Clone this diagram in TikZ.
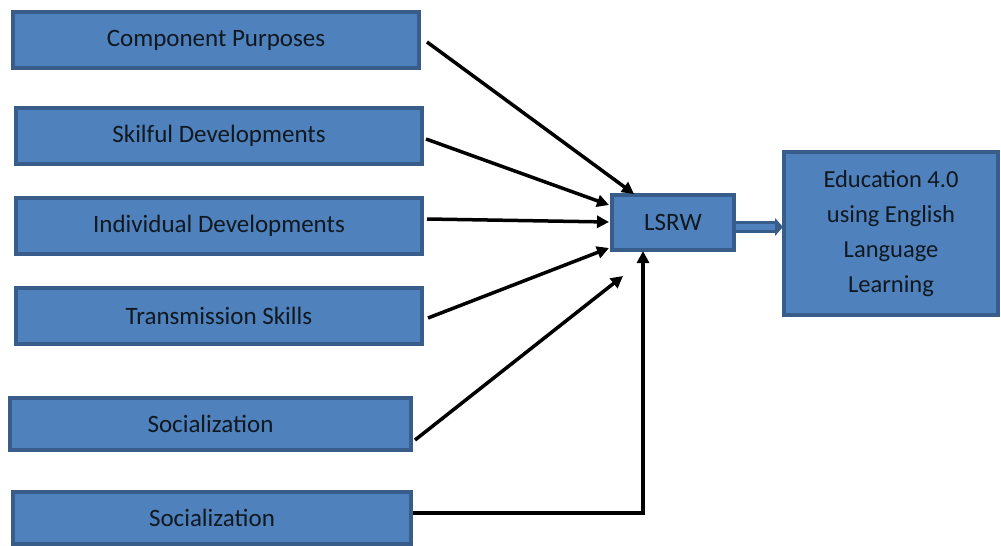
\documentclass[tikz,border=0pt]{standalone}
\usepackage{fontspec}
\setmainfont{Carlito}
\usetikzlibrary{arrows.meta}
\definecolor{boxfill}{HTML}{4F81BD}
\definecolor{boxline}{HTML}{385D8A}
\definecolor{txt}{HTML}{101820}
\begin{document}
\begin{tikzpicture}[x=1pt,y=-1pt,
  box/.style={draw=boxline,line width=4.5pt,fill=boxfill,inner sep=0pt,text=txt,font=\fontsize{25}{30}\selectfont,align=center},
  conn/.style={line width=3.5pt,-{Triangle[length=12pt,width=12pt]}}]
\useasboundingbox (0,0) rectangle (1001,546);
\node[box,minimum width=406pt,minimum height=56pt] (cp) at (216,40) {Component Purposes};
\node[box,minimum width=406pt,minimum height=56pt] (sd) at (219,136) {Skilful Developments};
\node[box,minimum width=406pt,minimum height=56pt] (id) at (219,226) {Individual Developments};
\node[box,minimum width=406pt,minimum height=56pt] (ts) at (219,316) {Transmission Skills};
\node[box,minimum width=401pt,minimum height=52pt] (s1) at (210.5,424) {Socialization};
\node[box,minimum width=398pt,minimum height=52pt] (s2) at (212,518) {Socialization};
\node[box,minimum width=122pt,minimum height=55pt] (ls) at (673,222.5) {LSRW};
\node[box,minimum width=214pt,minimum height=163pt,font=\fontsize{24.5}{35}\selectfont] (ed) at (891,233.5) {Education 4.0\\using English\\Language\\Learning};
\coordinate (s1a) at (427,42);   \coordinate (e1) at (634,194);
\coordinate (s2a) at (426,139);  \coordinate (e2) at (609,205);
\coordinate (s3a) at (427,219);  \coordinate (e3) at (609,222);
\coordinate (s4a) at (428,318);  \coordinate (e4) at (609,248);
\coordinate (s5a) at (415,440);  \coordinate (e5) at (623,276);
\coordinate (s6a) at (413,513);  \coordinate (e6) at (643,251);
\draw[conn] (s1a) -- (e1);
\draw[conn] (s2a) -- (e2);
\draw[conn] (s3a) -- (e3);
\draw[conn] (s4a) -- (e4);
\draw[conn] (s5a) -- (e5);
\draw[conn] (s6a) -| (e6);
\coordinate (b1) at (736,227);
\coordinate (b2) at (775,227);
\coordinate (b3) at (783,227);
\draw[line width=12pt,boxline] (b1) -- (b2);
\draw[line width=6pt,boxfill] (b1) -- (b2);
\fill[boxline] (775,218) -- (b3) -- (775,236) -- cycle;
\end{tikzpicture}
\end{document}
